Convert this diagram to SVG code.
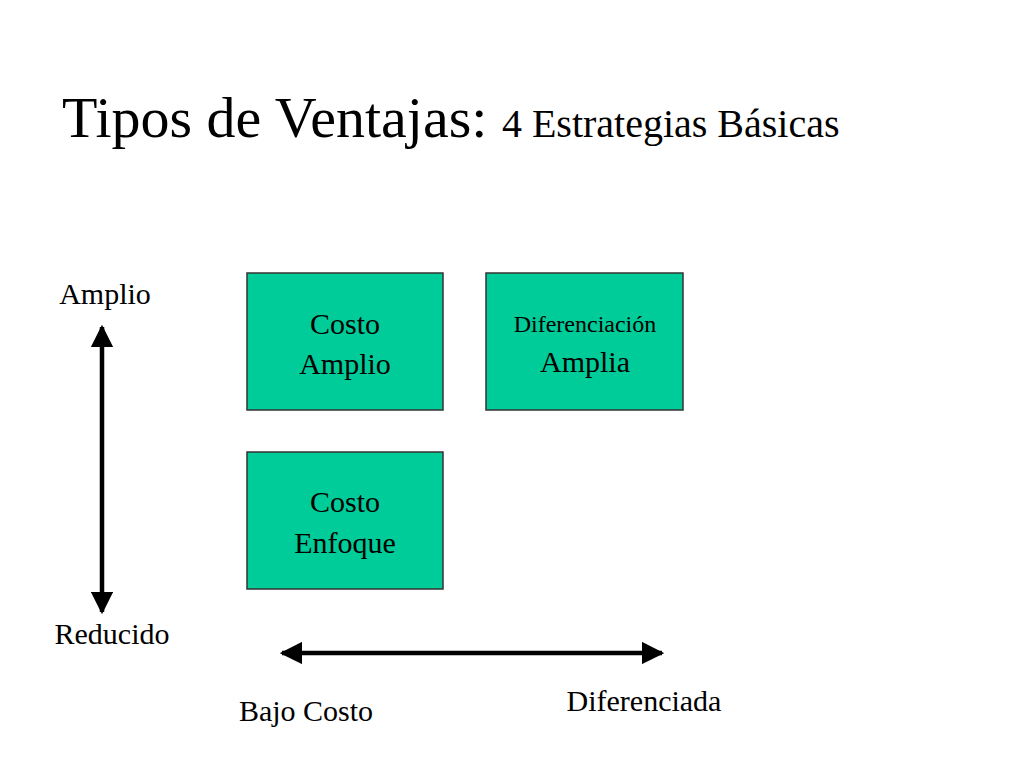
<svg xmlns="http://www.w3.org/2000/svg" width="1024" height="768" viewBox="0 0 1024 768">
<style>
text{font-family:"Liberation Serif","Times New Roman",serif;fill:#000}
.box{fill:#00CC99;stroke:#333;stroke-width:1.5}
.ax{stroke:#000;stroke-width:4.5;fill:none}
</style>
<defs>
<marker id="ah" viewBox="0 0 10 10" refX="9" refY="5" markerWidth="5" markerHeight="5" markerUnits="strokeWidth" orient="auto-start-reverse"><path d="M0,0L10,5L0,10z" fill="#000"/></marker>
</defs>
<rect width="1024" height="768" fill="#fff"/>
<text x="62" y="137" font-size="58">Tipos de Ventajas: <tspan font-size="40">4 Estrategias Básicas</tspan></text>
<g id="costo-amplio"><rect class="box" x="247" y="273" width="196" height="137"/>
<text x="345" y="334" font-size="30" text-anchor="middle">Costo</text><text x="345" y="374" font-size="30" text-anchor="middle">Amplio</text></g>
<g id="dif-amplia"><rect class="box" x="486" y="273" width="197" height="137"/>
<text x="585" y="332" font-size="24" text-anchor="middle">Diferenciación</text><text x="585" y="372" font-size="30" text-anchor="middle">Amplia</text></g>
<g id="costo-enfoque"><rect class="box" x="247" y="452" width="196" height="137"/>
<text x="345" y="512" font-size="30" text-anchor="middle">Costo</text><text x="345" y="553" font-size="30" text-anchor="middle">Enfoque</text></g>
<g id="labels">
<text x="105" y="304" font-size="30" text-anchor="middle">Amplio</text>
<text x="112" y="644" font-size="30" text-anchor="middle">Reducido</text>
<text x="306" y="721" font-size="30" text-anchor="middle">Bajo Costo</text>
<text x="644" y="711" font-size="30" text-anchor="middle">Diferenciada</text>
</g>
<g id="connectors">
<line class="ax" x1="102" y1="327" x2="102" y2="612" marker-start="url(#ah)" marker-end="url(#ah)"/>
<line class="ax" x1="282" y1="653" x2="662" y2="653" marker-start="url(#ah)" marker-end="url(#ah)"/>
</g>
</svg>
